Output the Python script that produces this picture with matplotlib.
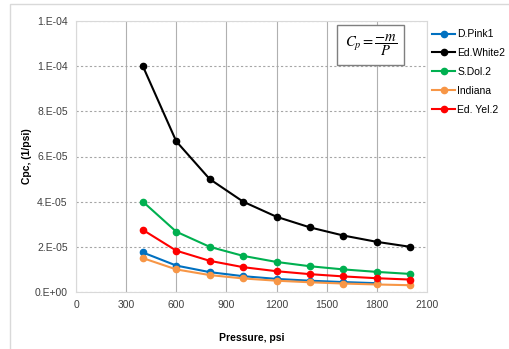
import matplotlib
matplotlib.use('Agg')
import matplotlib.pyplot as plt
from matplotlib.patches import Rectangle

# pressure points, psi
pressure = [400, 600, 800, 1000, 1200, 1400, 1600, 1800, 2000]

# compressibility values (1/psi)
d_pink1 = [1.75e-05, 1.17e-05, 8.8e-06, 7.0e-06, 5.8e-06, 5.0e-06, 4.4e-06, 3.9e-06]
ed_white2 = [1.0e-04, 6.67e-05, 5.0e-05, 4.0e-05, 3.33e-05, 2.86e-05, 2.5e-05, 2.22e-05, 2.0e-05]
s_dol2 = [4.0e-05, 2.67e-05, 2.0e-05, 1.6e-05, 1.33e-05, 1.14e-05, 1.0e-05, 8.9e-06, 8.0e-06]
indiana = [1.5e-05, 1.0e-05, 7.5e-06, 6.0e-06, 5.0e-06, 4.3e-06, 3.75e-06, 3.33e-06, 3.0e-06]
ed_yel2 = [2.75e-05, 1.83e-05, 1.38e-05, 1.1e-05, 9.2e-06, 7.9e-06, 6.9e-06, 6.1e-06, 5.5e-06]

x_ticks = [0, 300, 600, 900, 1200, 1500, 1800, 2100]
y_ticks = [0, 2e-05, 4e-05, 6e-05, 8e-05, 1e-04, 1.2e-04]
y_labels = ['0.E+00', '2.E-05', '4.E-05', '6.E-05', '8.E-05', '1.E-04', '1.E-04']

plt.rcParams['font.family'] = ['Liberation Sans', 'DejaVu Sans']

fig = plt.figure(figsize=(5.09, 3.49), dpi=100)
W, H = 509, 349

# outer chart border
fig.patches.append(Rectangle((10 / W, -0.1), 1.2, (349 - 4) / H + 0.1,
                             transform=fig.transFigure, fill=False,
                             edgecolor='#D9D9D9', linewidth=1))

ax = fig.add_axes([76 / W, 1 - 292 / H, (427 - 76) / W, (292 - 21) / H])

series = [
    ('D.Pink1', pressure[:len(d_pink1)], d_pink1, '#0070C0'),
    ('Ed.White2', pressure, ed_white2, '#000000'),
    ('S.Dol.2', pressure, s_dol2, '#00B050'),
    ('Indiana', pressure, indiana, '#F79646'),
    ('Ed. Yel.2', pressure, ed_yel2, '#FF0000'),
]
for name, xs, ys, c in series:
    ax.plot(xs, ys, color=c, linewidth=1.5, marker='o', markersize=4.5, label=name)

ax.set_xlim(0, 2100)
ax.set_ylim(0, 1.2e-04)
ax.set_xticks(x_ticks)
ax.set_yticks(y_ticks)
ax.set_yticklabels(y_labels)
ax.tick_params(length=0, labelsize=7.5, colors='#404040', pad=6)
ax.grid(axis='x', color='#B0B0B0', linewidth=0.8, linestyle='-')
ax.grid(axis='y', color='#A6A6A6', linewidth=0.8, linestyle=(0, (2, 2)))
ax.set_axisbelow(True)
for s in ax.spines.values():
    s.set_color('#D9D9D9')

fig.text(251.5 / W, 1 - 338 / H, 'Pressure, psi', fontsize=7.5, fontweight='bold',
         ha='center', va='center')
ax.set_ylabel('Cpc, (1/psi)', fontsize=7.5, fontweight='bold', labelpad=2)

ax.text(0.84, 0.912, r'$C_p = \dfrac{-m}{P}$', transform=ax.transAxes,
        ha='center', va='center', fontsize=10.5, math_fontfamily='stix',
        bbox=dict(boxstyle='square,pad=0.5', facecolor='white', edgecolor='#7F7F7F'))

leg = fig.legend(loc='upper left', bbox_to_anchor=(428 / W, 1 - 25 / H),
                 frameon=False, fontsize=7.5, handlelength=2.2, handletextpad=0.2,
                 labelspacing=0.85, borderaxespad=0)

fig.savefig('out.png', dpi=100)
